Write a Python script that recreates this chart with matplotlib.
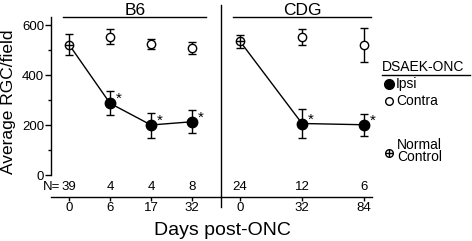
import numpy as np
import matplotlib.pyplot as plt
from matplotlib.lines import Line2D

plt.rcParams['font.family'] = ['Liberation Sans', 'DejaVu Sans']

# B6 group
b6_days = ['0', '6', '17', '32']
b6_n = ['39', '4', '4', '8']
b6_normal_mean, b6_normal_err = 522, 43
b6_ipsi_mean = [287, 200, 213]
b6_ipsi_err = [48, 50, 46]
b6_contra_mean = [553, 525, 507]
b6_contra_err = [30, 20, 24]

# CDG group
cdg_days = ['0', '32', '84']
cdg_n = ['24', '12', '6']
cdg_normal_mean, cdg_normal_err = 535, 25
cdg_ipsi_mean = [206, 201]
cdg_ipsi_err = [57, 44]
cdg_contra_mean = [553, 520]
cdg_contra_err = [32, 67]

W, H = 472, 241
fig = plt.figure(figsize=(W / 100, H / 100), dpi=100)


def px_axes(x0, x1, y0, y1):
    return fig.add_axes([x0 / W, 1 - y1 / H, (x1 - x0) / W, (y1 - y0) / H])


# pixel layout: y=0 at px 175, 600 at px 25; axis line at px 197
ax1 = px_axes(51, 221, 17, 197)
ax2 = px_axes(221, 372, 17, 197)
ylo, yhi = -88, 632

ax1.set_xlim((51 - 69) / 41, (221 - 69) / 41)
ax2.set_xlim((221 - 240) / 62, (372 - 240) / 62)

fs_tick = 9.5


def draw_group(ax, days, nlab, nm, ne, im, ie, cm, ce):
    x = np.arange(len(days))
    ax.set_ylim(ylo, yhi)
    for s in ['top', 'right']:
        ax.spines[s].set_visible(False)
    ax.patch.set_visible(False)
    kw = dict(ecolor='black', elinewidth=1, capsize=2.8, capthick=1, zorder=3)
    # ipsi line including normal control at day 0
    ax.plot(x, [nm] + im, color='black', lw=1, zorder=2)
    ax.errorbar(x[1:], im, yerr=ie, fmt='o', ms=7.5, mfc='black', mec='black', **kw)
    ax.errorbar(x[1:], cm, yerr=ce, fmt='o', ms=6, mfc='white', mec='black', mew=1, **kw)
    ax.errorbar([x[0]], [nm], yerr=[ne], fmt='o', ms=6, mfc='white', mec='black', mew=1, **kw)
    ax.plot([x[0]], [nm], marker='+', ms=6, mew=1, color='black', zorder=4)
    for xi, yi in zip(x[1:], im):
        ax.annotate('*', (xi, yi), xytext=(6.5, 3), textcoords='offset points',
                    fontsize=11, ha='center', va='center')
    for xi, n in zip(x, nlab):
        ax.text(xi, -48, n, fontsize=fs_tick, ha='center', va='center')
    ax.set_xticks(x)
    ax.set_xticklabels(days, fontsize=fs_tick)
    ax.tick_params(axis='x', length=3, width=1, pad=0.5)
    ax.spines['bottom'].set_linewidth(1)


draw_group(ax1, b6_days, b6_n, b6_normal_mean, b6_normal_err,
           b6_ipsi_mean, b6_ipsi_err, b6_contra_mean, b6_contra_err)
draw_group(ax2, cdg_days, cdg_n, cdg_normal_mean, cdg_normal_err,
           cdg_ipsi_mean, cdg_ipsi_err, cdg_contra_mean, cdg_contra_err)

ax1.spines['left'].set_bounds(0, yhi)
ax1.spines['left'].set_linewidth(1)
ax1.set_yticks([0, 200, 400, 600])
ax1.set_yticks([100, 300, 500], minor=True)
ax1.tick_params(axis='y', which='major', length=4, width=1, labelsize=fs_tick, pad=1)
ax1.tick_params(axis='y', which='minor', length=2.5, width=1)
ax2.spines['left'].set_visible(False)
ax2.set_yticks([])
ax1.text((60 - 69) / 41, -48, 'N=', fontsize=fs_tick, ha='right', va='center')


def fig_line(x0, y0, x1, y1):
    fig.add_artist(Line2D([x0 / W, x1 / W], [1 - y0 / H, 1 - y1 / H], color='black', lw=1))


# group headers, divider and axis titles
fig_line(63, 17, 206, 17)
fig_line(233, 17, 371, 17)
fig_line(221, 5, 221, 207)
fig.text(135 / W, 1 - 15 / H, 'B6', fontsize=12.5, ha='center', va='baseline')
fig.text(302 / W, 1 - 15 / H, 'CDG', fontsize=12.5, ha='center', va='baseline')
fig.text(222 / W, 1 - 235 / H, 'Days post-ONC', fontsize=14, ha='center', va='baseline')
fig.text(9 / W, 1 - 102 / H, 'Average RGC/field', fontsize=12.5, rotation=90,
         ha='center', va='center')

# legend
fs_leg = 10
fig.text(382 / W, 1 - 67 / H, 'DSAEK-ONC', fontsize=fs_leg, ha='left', va='center')
fig_line(382, 75, 470, 75)
fig.add_artist(Line2D([389 / W], [1 - 84 / H], marker='o', ms=7, mfc='black', mec='black'))
fig.text(396 / W, 1 - 84 / H, 'Ipsi', fontsize=fs_leg, ha='left', va='center')
fig.add_artist(Line2D([389 / W], [1 - 101 / H], marker='o', ms=5.5, mfc='white', mec='black', mew=1))
fig.text(396 / W, 1 - 101 / H, 'Contra', fontsize=fs_leg, ha='left', va='center')
fig.add_artist(Line2D([389 / W], [1 - 153 / H], marker='o', ms=5.5, mfc='white', mec='black', mew=1))
fig.add_artist(Line2D([389 / W], [1 - 153 / H], marker='+', ms=5.5, mew=1, color='black'))
fig.text(397 / W, 1 - 151 / H, 'Normal\nControl', fontsize=fs_leg, ha='left', va='center', linespacing=0.9)

fig.savefig('out.png', dpi=100)
